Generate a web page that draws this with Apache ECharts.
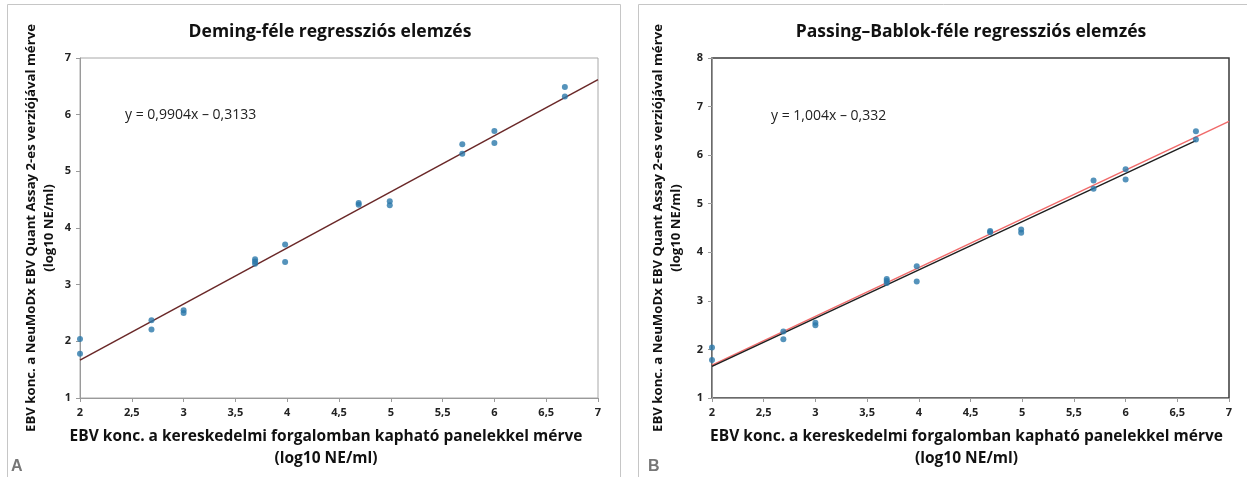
<!DOCTYPE html>
<html>
<head>
<meta charset="utf-8">
<script src="https://cdn.jsdelivr.net/npm/echarts@6/dist/echarts.min.js"></script>
<style>
html,body{margin:0;padding:0;background:#fff;}
#c{width:1247px;height:477px;}
</style>
</head>
<body>
<div id="c"></div>
<script>
// ---- data ----
const xValues = [2, 2, 2.69, 2.69, 3, 3, 3.69, 3.69, 3.69, 3.98, 3.98, 4.69, 4.69, 4.99, 4.99, 5.69, 5.69, 6, 6, 6.68, 6.68];
const yValues = [2.04, 1.78, 2.37, 2.21, 2.55, 2.50, 3.45, 3.41, 3.37, 3.71, 3.40, 4.44, 4.41, 4.47, 4.40, 5.48, 5.31, 5.71, 5.50, 6.49, 6.32];

const demingSlope = 0.9904, demingIntercept = -0.3133;
const pbSlope = 1.004, pbIntercept = -0.332;
const pbBlackSlope = 0.9936, pbBlackIntercept = -0.337;

const titleA = 'Deming-féle regressziós elemzés';
const titleB = 'Passing–Bablok-féle regressziós elemzés';
const eqA = 'y = 0,9904x – 0,3133';
const eqB = 'y = 1,004x – 0,332';
const xName = 'EBV konc. a kereskedelmi forgalomban kapható panelekkel mérve\n(log10 NE/ml)';
const yName = 'EBV konc. a NeuMoDx EBV Quant Assay 2-es verziójával mérve\n(log10 NE/ml)';

const xRange = [2, 7];
const yRangeA = [1, 7];
const yRangeB = [1, 8];

// ---- build ----
const points = xValues.map((x, i) => [x, yValues[i]]);
const lineFn = (m, b, x0, x1) => [[x0, m * x0 + b], [x1, m * x1 + b]];

const FONT = '"Open Sans", "Noto Sans", sans-serif';
const fmt = v => String(v).replace('.', ',');

function xAxis(gi, shift) {
  return {
    type: 'value', gridIndex: gi, min: xRange[0], max: xRange[1], interval: 0.5,
    axisLine: {show: true, lineStyle: {color: '#9a9a9a', width: 1}},
    axisTick: {show: true, length: 4, lineStyle: {color: '#9a9a9a'}},
    splitLine: {show: false},
    axisLabel: {formatter: fmt, fontFamily: FONT, fontWeight: 'bold', fontSize: 11, color: '#222', margin: 9},
    name: xName, nameLocation: 'middle', nameGap: 28,
    nameTextStyle: {fontFamily: FONT, fontWeight: 'bold', fontSize: 15.5, color: '#111', lineHeight: 22,
      padding: shift > 0 ? [0, shift, 0, 0] : [0, 0, 0, -shift]}
  };
}
function yAxis(gi, range, gap) {
  return {
    type: 'value', gridIndex: gi, min: range[0], max: range[1], interval: 1,
    axisLine: {show: true, lineStyle: {color: '#9a9a9a', width: 1}},
    axisTick: {show: true, length: 4, lineStyle: {color: '#9a9a9a'}},
    splitLine: {show: false},
    axisLabel: {fontFamily: FONT, fontWeight: 'bold', fontSize: 11, color: '#222', margin: 9},
    name: yName, nameLocation: 'middle', nameGap: gap,
    nameTextStyle: {fontFamily: FONT, fontWeight: 'bold', fontSize: 13.2, color: '#111', lineHeight: 18}
  };
}

const chart = echarts.init(document.getElementById('c'), null, {renderer: 'canvas'});
chart.setOption({
  backgroundColor: '#fff',
  animation: false,
  title: [
    {text: titleA, left: 325, top: 18, textAlign: 'center',
     textStyle: {fontFamily: FONT, fontWeight: 'bold', fontSize: 17.5, color: '#111'}},
    {text: titleB, left: 966, top: 18, textAlign: 'center',
     textStyle: {fontFamily: FONT, fontWeight: 'bold', fontSize: 17.5, color: '#111'}}
  ],
  grid: [
    {left: 80, top: 58, width: 518, height: 340, show: true, borderColor: '#a8a8a8', borderWidth: 1, backgroundColor: 'transparent'},
    {left: 712, top: 58, width: 517, height: 340, show: true, borderColor: '#3a3a3a', borderWidth: 1.5, backgroundColor: 'transparent'}
  ],
  xAxis: [xAxis(0, 26), xAxis(1, 8)],
  yAxis: [yAxis(0, yRangeA, 22), yAxis(1, yRangeB, 27)],
  series: [
    {type: 'line', xAxisIndex: 0, yAxisIndex: 0, data: lineFn(demingSlope, demingIntercept, xRange[0], xRange[1]),
     symbol: 'none', lineStyle: {color: '#6a2828', width: 1.5}, z: 2},
    {type: 'scatter', xAxisIndex: 0, yAxisIndex: 0, data: points, symbolSize: 6,
     itemStyle: {color: '#2a78aa'}, z: 3},
    {type: 'line', xAxisIndex: 1, yAxisIndex: 1, data: lineFn(pbSlope, pbIntercept, xRange[0], xRange[1]),
     symbol: 'none', lineStyle: {color: '#f06a6a', width: 1.5}, z: 2},
    {type: 'line', xAxisIndex: 1, yAxisIndex: 1, data: lineFn(pbBlackSlope, pbBlackIntercept, 2, 6.68),
     symbol: 'none', lineStyle: {color: '#1e1e1e', width: 1.5}, z: 2},
    {type: 'scatter', xAxisIndex: 1, yAxisIndex: 1, data: points, symbolSize: 6,
     itemStyle: {color: '#2a78aa'}, z: 3}
  ],
  graphic: [
    {type: 'rect', shape: {x: 7.5, y: 4.5, width: 613, height: 500}, style: {fill: 'none', stroke: '#c6c6c6', lineWidth: 1}, z: -1},
    {type: 'rect', shape: {x: 638.5, y: 4.5, width: 640, height: 500}, style: {fill: 'none', stroke: '#c6c6c6', lineWidth: 1}, z: -1},
    {type: 'text', x: 125, y: 115, style: {text: eqA, font: '14px ' + FONT, fill: '#222', verticalAlign: 'middle'}},
    {type: 'text', x: 771, y: 116, style: {text: eqB, font: '14px ' + FONT, fill: '#222', verticalAlign: 'middle'}},
    {type: 'text', x: 11, y: 467, style: {text: 'A', font: 'bold 16px "Liberation Sans", sans-serif', fill: '#777', verticalAlign: 'middle'}},
    {type: 'text', x: 648, y: 467, style: {text: 'B', font: 'bold 16px "Liberation Sans", sans-serif', fill: '#777', verticalAlign: 'middle'}}
  ]
});
</script>
</body>
</html>
